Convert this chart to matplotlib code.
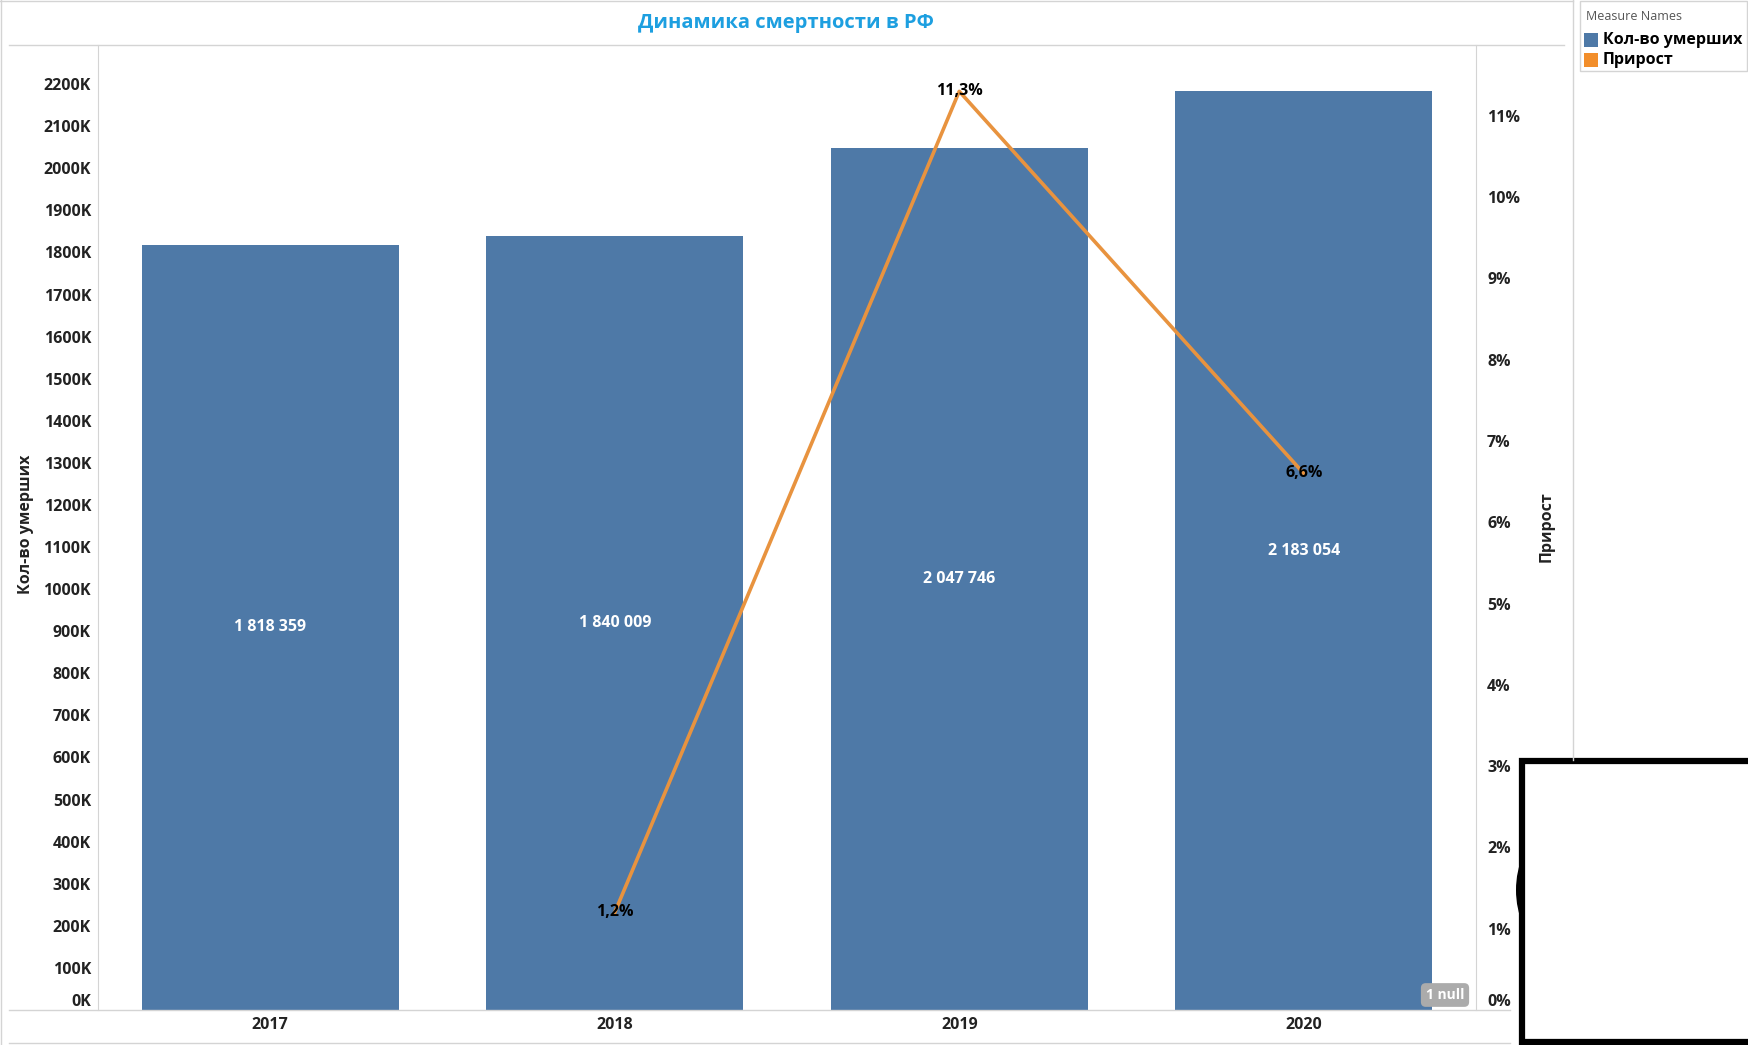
import matplotlib.pyplot as plt
from matplotlib.patches import Rectangle, Ellipse
from matplotlib.lines import Line2D
import numpy as np

plt.rcParams['font.family'] = ['Open Sans', 'DejaVu Sans']

# данные
years = ['2017', '2018', '2019', '2020']
deaths = [1818359, 1840009, 2047746, 2183054]
growth = [np.nan, 1.2, 11.3, 6.6]
growth_labels = ['', '1,2%', '11,3%', '6,6%']

left_ticks = list(range(0, 2200001, 100000))
right_ticks = list(range(0, 12))

W, H = 1749, 1045
blue = '#4E79A7'
orange = '#E8933F'
grid_c = '#D4D4D4'


def fx(x):
    return x / W


def fy(y):
    return 1 - y / H


fig = plt.figure(figsize=(W / 100, H / 100), dpi=100)

ax = fig.add_axes([fx(98), fy(1010), (1476 - 98) / W, (1010 - 45) / H])
xs = np.arange(len(years))
ax.bar(xs, deaths, width=0.745, color=blue, zorder=2)
ax.set_xlim(-0.5, 3.5)
ax.set_ylim(0, 2293000)
ax.set_yticks(left_ticks)
ax.set_yticklabels(['{}K'.format(v // 1000) for v in left_ticks])
ax.set_xticks(xs)
ax.set_xticklabels(years)
ax.tick_params(axis='both', length=0, labelsize=11.5, colors='#222222')
ax.tick_params(axis='y', pad=5)
ax.tick_params(axis='x', pad=5)
for lbl in ax.get_yticklabels() + ax.get_xticklabels():
    lbl.set_fontweight('bold')
ax.get_yticklabels()[0].set_va('bottom')

for i, v in enumerate(deaths):
    ax.text(xs[i], v / 2, '{:,}'.format(v).replace(',', ' '), color='white',
            ha='center', va='center', fontsize=11.5, fontweight='bold', zorder=3)

ax2 = ax.twinx()
ax2.plot(xs, growth, color=orange, lw=2.6, zorder=3)
ax2.set_ylim(0, 11.87)
ax2.set_yticks(right_ticks)
ax2.set_yticklabels(['{}%'.format(v) for v in right_ticks])
ax2.tick_params(axis='y', length=0, labelsize=11.5, colors='#222222', pad=8)
for lbl in ax2.get_yticklabels():
    lbl.set_fontweight('bold')
ax2.get_yticklabels()[0].set_va('bottom')
for i, t in enumerate(growth_labels):
    if t:
        ax2.text(xs[i], growth[i], t, ha='center', va='center', fontsize=11.5,
                 fontweight='bold', color='black', zorder=4)

for a in (ax, ax2):
    for s in ['top', 'bottom']:
        a.spines[s].set_visible(False)
    a.spines['left'].set_color(grid_c)
    a.spines['right'].set_color(grid_c)
ax2.spines['left'].set_visible(False)
ax.spines['right'].set_visible(False)

# заголовок и подписи осей
fig.text(fx(786), fy(23), 'Динамика смертности в РФ', color='#1D9FE0',
         ha='center', va='center', fontsize=14.5, fontweight='bold')
fig.text(fx(26), fy(524), 'Кол-во умерших', rotation=90, ha='center', va='center',
         fontsize=11.5, fontweight='bold', color='#222222')
fig.text(fx(1547), fy(527), 'Прирост', rotation=90, ha='center', va='center',
         fontsize=11.5, fontweight='bold', color='#222222')

# рамки и линии
lines = [
    ([9, 1564], [45, 45]),
    ([9, 1510], [1010, 1010]),
    ([9, 1510], [1043, 1043]),
    ([1, 1], [0, 1045]),
    ([0, 1573], [1, 1]),
    ([1573, 1573], [0, 760]),
]
for lx, ly in lines:
    fig.add_artist(Line2D([fx(v) for v in lx], [fy(v) for v in ly], color=grid_c,
                          lw=1, transform=fig.transFigure))

# легенда
fig.add_artist(Rectangle((fx(1580), fy(71)), 167 / W, 70 / H, transform=fig.transFigure,
                         facecolor='white', edgecolor=grid_c, lw=1))
fig.text(fx(1586), fy(16), 'Measure Names', fontsize=9, color='#555555', va='center')
fig.add_artist(Rectangle((fx(1584), fy(47)), 14 / W, 14 / H, transform=fig.transFigure,
                         facecolor=blue, edgecolor='none'))
fig.add_artist(Rectangle((fx(1584), fy(67)), 14 / W, 14 / H, transform=fig.transFigure,
                         facecolor='#F28E2B', edgecolor='none'))
fig.text(fx(1603), fy(40), 'Кол-во умерших', fontsize=11.5, fontweight='bold', va='center')
fig.text(fx(1603), fy(60), 'Прирост', fontsize=11.5, fontweight='bold', va='center')

# значок "1 null"
fig.text(fx(1445), fy(995), '1 null', ha='center', va='center', fontsize=10,
         fontweight='bold', color='white',
         bbox=dict(boxstyle='round,pad=0.35', facecolor='#ABABAB', edgecolor='none'))

# чёрная рамка внизу справа
fig.add_artist(Ellipse((fx(1540), fy(890)), 48 / W, 95 / H, transform=fig.transFigure,
                       facecolor='black', edgecolor='none'))
fig.add_artist(Rectangle((fx(1522), fy(1042)), 300 / W, 281 / H, transform=fig.transFigure,
                         facecolor='white', edgecolor='black', lw=4.5))

fig.savefig('out.png', dpi=100)
